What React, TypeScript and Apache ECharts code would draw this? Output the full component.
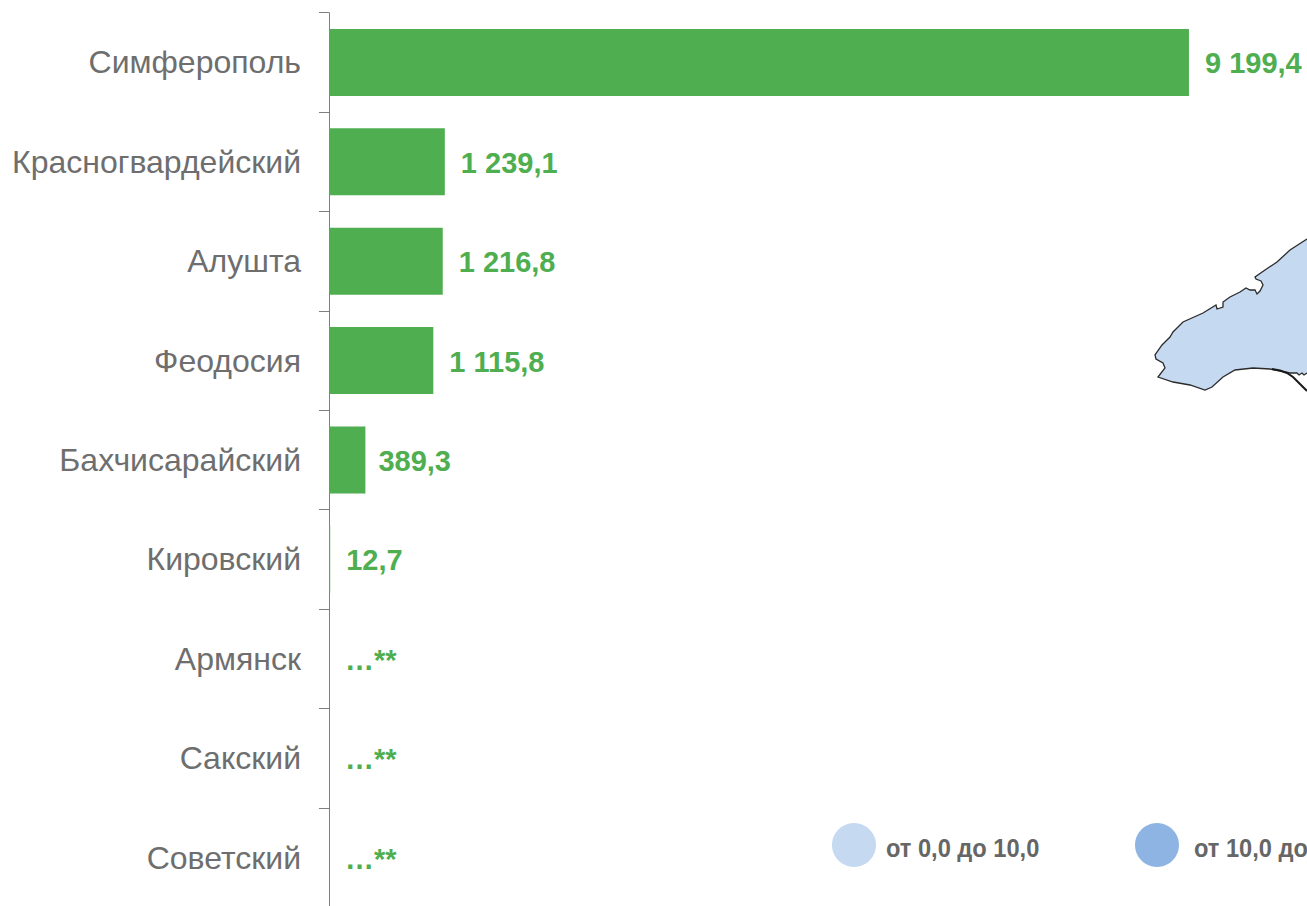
import React, { useEffect, useRef } from "react";
import * as echarts from "echarts";

const categories = ["Симферополь", "Красногвардейский", "Алушта", "Феодосия", "Бахчисарайский", "Кировский", "Армянск", "Сакский", "Советский"];
const values = [9199.4, 1239.1, 1216.8, 1115.8, 389.3, 12.7, 0, 0, 0];
const valueLabels = ["9 199,4", "1 239,1", "1 216,8", "1 115,8", "389,3", "12,7", "…**", "…**", "…**"];
const legendItems = ["от 0,0 до 10,0", "от 10,0 до"];
const legendColors = ["#c5d9f1", "#8eb4e3"];

const coastline: number[][] = [
  [1307, 239], [1290, 250], [1277, 262], [1265, 270], [1255, 277], [1256, 279], [1261, 281], [1263, 285], [1260, 291], [1257, 294],
  [1255, 290], [1250, 290], [1246, 288], [1240, 292], [1230, 297], [1223, 302], [1223, 307], [1217, 309], [1216, 305], [1203, 313],
  [1183, 322], [1173, 332], [1170, 337], [1162, 345], [1155, 355], [1156, 359], [1163, 363], [1165, 368], [1158, 377], [1173, 382],
  [1190, 385], [1205, 390], [1212, 387], [1223, 377], [1235, 370], [1253, 368], [1270, 369], [1285, 372], [1290, 373], [1297, 373],
  [1299, 375], [1302, 373], [1304, 375], [1307, 373],
];
const innerBorder: number[][] = [[1272, 369], [1280, 370.5], [1287, 373], [1293, 377], [1300, 384], [1307, 391]];

export default function App() {
  const ref = useRef<HTMLDivElement>(null);
  useEffect(() => {
    const chart = echarts.init(ref.current!, undefined, { renderer: "svg" });
    const labelFont = "bold 25px 'Liberation Sans'";
    chart.setOption({
      animation: false,
      backgroundColor: "#ffffff",
      grid: { left: 329, top: 12.7, width: 934.8, height: 894.6, containLabel: false },
      xAxis: { type: "value", min: 0, max: 10000, show: false },
      yAxis: {
        type: "category",
        inverse: true,
        data: categories,
        axisLine: { show: true, lineStyle: { color: "#7f7f7f", width: 1 } },
        axisTick: { show: true, inside: false, length: 10, lineStyle: { color: "#7f7f7f", width: 1 } },
        axisLabel: { color: "#6e6e6e", fontSize: 32, fontFamily: "Liberation Sans", margin: 28 },
      },
      series: [
        {
          type: "bar",
          data: values.map((value, i) => (i === 4 ? { value, label: { distance: 13 } } : value)),
          barWidth: 67,
          itemStyle: { color: "#4fae50" },
          label: {
            show: true,
            position: "right",
            distance: 16,
            offset: [0, 1],
            color: "#4fae50",
            fontSize: 29,
            fontWeight: "bold",
            fontFamily: "Liberation Sans",
            formatter: (p: any) => valueLabels[p.dataIndex],
          },
        },
      ],
      graphic: [
        { type: "polygon", shape: { points: coastline }, style: { fill: "#c5d9f1", stroke: "none" } },
        { type: "polyline", shape: { points: coastline }, style: { fill: "none", stroke: "#2b2b2b", lineWidth: 1.3 } },
        { type: "polyline", shape: { points: innerBorder }, style: { fill: "none", stroke: "#1a1a1a", lineWidth: 2 } },
        { type: "circle", shape: { cx: 854, cy: 845, r: 22 }, style: { fill: legendColors[0] } },
        { type: "circle", shape: { cx: 1157, cy: 845, r: 22 }, style: { fill: legendColors[1] } },
        { type: "text", x: 886, y: 848, scaleX: 0.945, style: { text: legendItems[0], fill: "#666666", font: labelFont, verticalAlign: "middle" } },
        { type: "text", x: 1194, y: 848, scaleX: 0.945, style: { text: legendItems[1], fill: "#666666", font: labelFont, verticalAlign: "middle" } },
      ],
    });
    return () => chart.dispose();
  }, []);
  return (
    <div style={{ position: "fixed", left: 0, top: 0, width: 1307, height: 906, overflow: "hidden" }}>
      <div ref={ref} style={{ width: 1307, height: 930 }} />
    </div>
  );
}
